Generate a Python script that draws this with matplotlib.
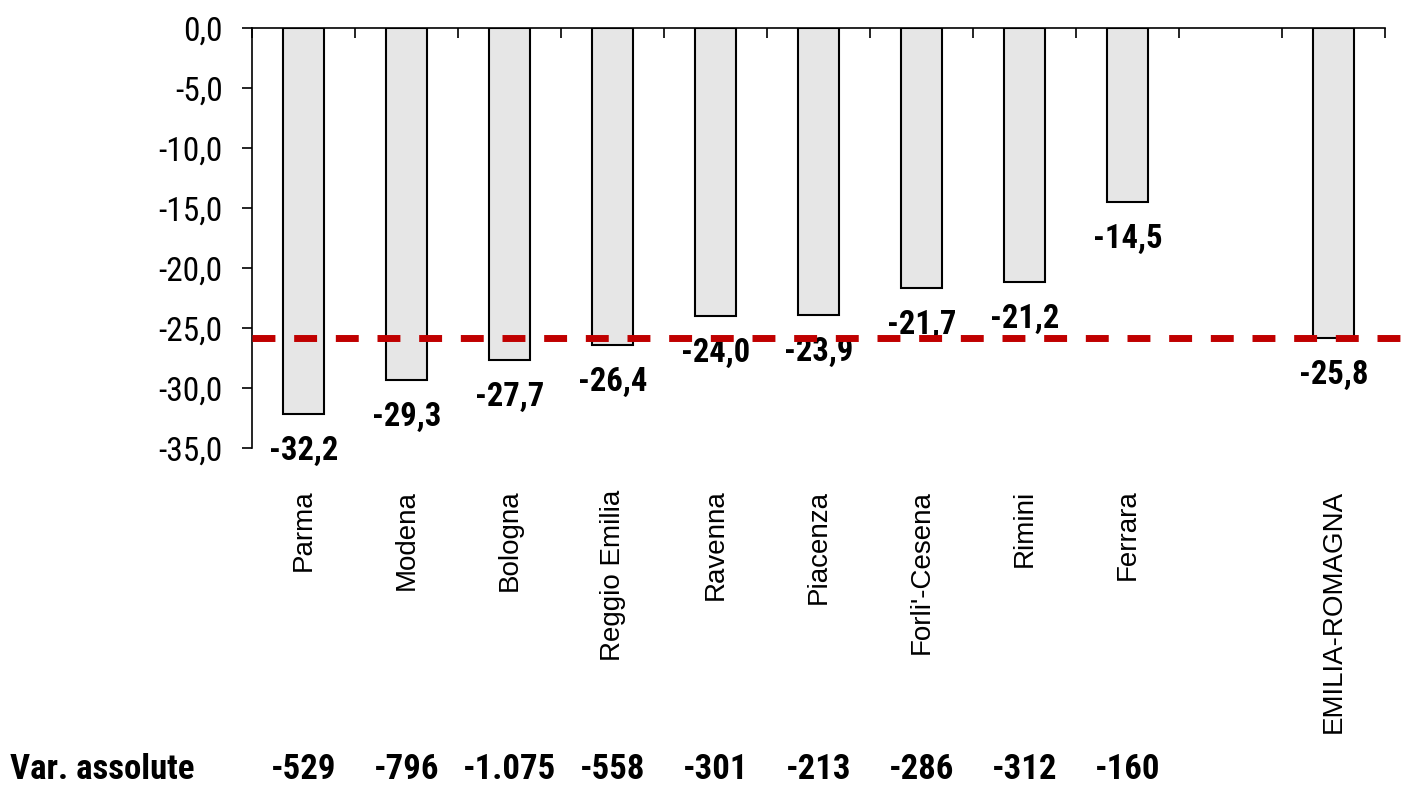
import matplotlib
matplotlib.use("Agg")
import matplotlib.pyplot as plt
import matplotlib.transforms as mtransforms
import numpy as np

# ---- data ----
categories = ["Parma", "Modena", "Bologna", "Reggio Emilia", "Ravenna", "Piacenza",
              "Forli'-Cesena", "Rimini", "Ferrara", "", "EMILIA-ROMAGNA"]
pct_change = [-32.2, -29.3, -27.7, -26.4, -24.0, -23.9, -21.7, -21.2, -14.5, None, -25.8]
abs_change = [-529, -796, -1075, -558, -301, -213, -286, -312, -160, None, None]
regional_avg = -25.8
row_label = "Var. assolute"
yticks = [0, -5, -10, -15, -20, -25, -30, -35]

NARROW = ["Roboto Condensed", "DejaVu Sans"]
REGULAR = ["Liberation Sans", "DejaVu Sans"]

def fmt1(v):
    s = f"{abs(v):.1f}".replace(".", ",")
    return ("-" if v < 0 else "") + s

def fmt_thousands(v):
    s = f"{abs(v):,}".replace(",", ".")
    return ("-" if v < 0 else "") + s

W, H = 1403, 786
fig = plt.figure(figsize=(W / 100, H / 100), dpi=100)
ax = fig.add_axes([252 / W, 1 - 448 / H, (1385 - 252) / W, (448 - 28) / H])

x = np.arange(len(categories))
vals = np.array([np.nan if v is None else v for v in pct_change], dtype=float)
mask = ~np.isnan(vals)
ax.bar(x[mask], vals[mask], width=0.4, color="#E6E6E6", edgecolor="black",
       linewidth=1.5, zorder=2)

ax.set_xlim(-0.5, len(categories) - 0.5)
ax.set_ylim(-35, 0)

# spines
for s in ["bottom", "right"]:
    ax.spines[s].set_visible(False)
for s in ["left", "top"]:
    ax.spines[s].set_linewidth(1.2)
    ax.spines[s].set_zorder(3)

# x ticks at category boundaries on top spine
ax.xaxis.tick_top()
ax.set_xticks(np.arange(-0.5, len(categories), 1.0))
ax.tick_params(axis="x", direction="in", length=7.5, width=1.2, labeltop=False,
               labelbottom=False)

# y ticks
ax.set_yticks(yticks)
ax.set_yticklabels([fmt1(v) if v != 0 else "0,0" for v in yticks])
ax.tick_params(axis="y", direction="out", length=7.2, width=1.2, pad=14)
for lab in ax.get_yticklabels():
    lab.set_family(NARROW)
    lab.set_fontsize(24)

# value labels under bars
for xi, v in zip(x, pct_change):
    if v is None:
        continue
    ax.annotate(fmt1(v), xy=(xi, v), xytext=(0, -26.6), textcoords="offset points",
                ha="center", va="center", fontsize=23.5, fontweight="bold",
                family=NARROW, zorder=3)

# regional average dashed line (extends to figure edge)
ax.plot([-0.5, len(categories) - 0.5 + 0.18], [regional_avg, regional_avg],
        color="#C00000", linewidth=5, dashes=(3.3, 2.7), clip_on=False, zorder=5)

# category labels (rotated, below plot)
trans = mtransforms.blended_transform_factory(ax.transData, ax.transAxes)
for xi, c in zip(x, categories):
    if not c:
        continue
    ax.annotate(c, xy=(xi, 0), xycoords=trans, xytext=(0, -30),
                textcoords="offset points", rotation=90, ha="center", va="top",
                fontsize=20, family=REGULAR)

# bottom row: absolute variations
ftrans = mtransforms.blended_transform_factory(ax.transData, fig.transFigure)
ybase = 1 - 779 / H
fig.text(10 / W, ybase, row_label, ha="left", va="baseline",
         fontsize=25, fontweight="bold", family=NARROW)
for xi, a in zip(x, abs_change):
    if a is None:
        continue
    ax.text(xi, ybase, fmt_thousands(a), transform=ftrans, ha="center",
            va="baseline", fontsize=25, fontweight="bold", family=NARROW,
            clip_on=False)

fig.savefig("out.png", dpi=100)
